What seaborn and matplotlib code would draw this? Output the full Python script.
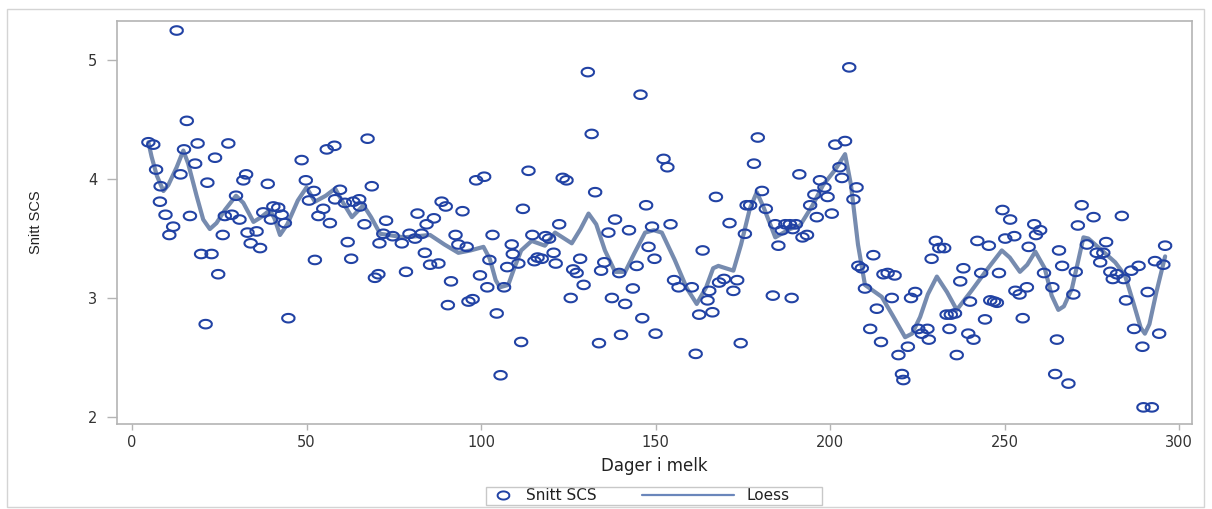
import numpy as np
import pandas as pd
import matplotlib
matplotlib.use("Agg")
import matplotlib.pyplot as plt
from matplotlib.lines import Line2D
from matplotlib.patches import Rectangle
import seaborn as sns

# ---------------- data ----------------
days = [4.7, 6.1, 6.9, 8.0, 8.2, 9.6, 10.7, 11.8, 12.8, 13.9, 14.9, 15.7, 16.6, 18.1, 18.8,
        19.8, 21.1, 21.6, 22.8, 23.8, 24.7, 26.0, 26.6, 27.6, 28.6, 29.8, 30.8, 31.9, 32.7,
        33.1, 34.0, 35.7, 36.7, 37.6, 38.9, 39.8, 40.5, 41.9, 42.9, 43.8, 44.8, 48.6, 49.8,
        50.7, 52.1, 52.4, 53.4, 54.8, 55.8, 56.7, 58.0, 58.2, 59.6, 61.0, 61.8, 62.8, 63.4,
        65.1, 65.3, 66.6, 67.5, 68.7, 69.6, 70.6, 70.9, 72.0, 72.8, 74.7, 77.3, 78.5, 79.5,
        81.1, 81.8, 83.0, 83.9, 84.4, 85.4, 86.5, 87.8, 88.7, 89.9, 90.5, 91.4, 92.7, 93.5,
        94.7, 95.9, 96.4, 97.6, 98.6, 99.7, 100.9, 101.8, 102.4, 103.3, 104.5, 105.6, 106.6,
        107.5, 108.8, 109.1, 110.7, 111.5, 112.0, 113.6, 114.7, 115.3, 116.2, 117.4, 118.5,
        119.5, 120.8, 121.4, 122.4, 123.4, 124.5, 125.7, 126.4, 127.4, 128.4, 129.4, 130.6,
        131.7, 132.7, 133.8, 134.4, 135.3, 136.5, 137.5, 138.4, 139.6, 140.1, 141.3, 142.4,
        143.5, 144.6, 145.7, 146.2, 147.3, 148.0, 149.0, 149.7, 150.0, 152.3, 153.4, 154.3,
        155.3, 156.6, 160.4, 161.5, 162.5, 163.5, 164.9, 165.4, 166.3, 167.3, 168.2, 169.6,
        171.2, 172.3, 173.4, 174.4, 175.6, 176.1, 177.1, 178.2, 179.3, 180.5, 181.6, 183.6,
        184.3, 185.2, 186.2, 187.2, 189.0, 188.5, 189.3, 190.2, 191.2, 192.1, 193.4, 194.3,
        195.5, 196.2, 197.1, 198.4, 199.3, 200.5, 201.5, 202.7, 203.4, 204.3, 205.5, 206.7,
        207.6, 208.1, 209.1, 210.0, 211.5, 212.4, 213.4, 214.6, 215.3, 216.5, 217.7, 218.5,
        219.6, 220.6, 221.0, 222.3, 223.2, 224.4, 225.3, 226.3, 227.9, 228.3, 229.1, 230.3,
        231.3, 232.7, 233.4, 234.2, 234.6, 235.8, 236.3, 237.3, 238.2, 239.6, 240.1, 241.1,
        242.2, 243.3, 244.4, 245.5, 245.9, 247.0, 247.8, 248.4, 249.4, 250.2, 251.6, 252.8,
        253.1, 254.3, 255.2, 256.4, 256.9, 258.5, 259.0, 260.2, 261.3, 263.7, 264.5, 265.0,
        265.6, 266.5, 268.3, 269.7, 270.4, 271.0, 272.1, 273.6, 275.5, 276.4, 277.4, 278.3,
        279.1, 280.3, 281.0, 282.2, 283.6, 284.1, 284.8, 286.3, 287.1, 288.4, 289.5, 289.8,
        291.0, 292.2, 293.1, 294.3, 295.5, 296.0]

snitt_scs = [4.31, 4.29, 4.08, 3.81, 3.94, 3.70, 3.53, 3.60, 5.25, 4.04, 4.25, 4.49, 3.69, 4.13, 4.30,
             3.37, 2.78, 3.97, 3.37, 4.18, 3.20, 3.53, 3.69, 4.30, 3.70, 3.86, 3.66, 3.99, 4.04,
             3.55, 3.46, 3.56, 3.42, 3.72, 3.96, 3.66, 3.77, 3.76, 3.70, 3.63, 2.83, 4.16, 3.99,
             3.82, 3.90, 3.32, 3.69, 3.75, 4.25, 3.63, 4.28, 3.83, 3.91, 3.80, 3.47, 3.33, 3.81,
             3.83, 3.77, 3.62, 4.34, 3.94, 3.17, 3.20, 3.46, 3.54, 3.65, 3.52, 3.46, 3.22, 3.54,
             3.50, 3.71, 3.54, 3.38, 3.62, 3.28, 3.67, 3.29, 3.81, 3.77, 2.94, 3.14, 3.53, 3.45,
             3.73, 3.43, 2.97, 2.99, 3.99, 3.19, 4.02, 3.09, 3.32, 3.53, 2.87, 2.35, 3.09,
             3.26, 3.45, 3.37, 3.29, 2.63, 3.75, 4.07, 3.53, 3.31, 3.34, 3.33, 3.52,
             3.50, 3.38, 3.29, 3.62, 4.01, 3.99, 3.00, 3.24, 3.21, 3.33, 3.11, 4.90,
             4.38, 3.89, 2.62, 3.23, 3.30, 3.55, 3.00, 3.66, 3.21, 2.69, 2.95, 3.57,
             3.08, 3.27, 4.71, 2.83, 3.78, 3.43, 3.60, 3.33, 2.70, 4.17, 4.10, 3.62,
             3.15, 3.09, 3.09, 2.53, 2.86, 3.40, 2.98, 3.06, 2.88, 3.85, 3.13, 3.16,
             3.63, 3.06, 3.15, 2.62, 3.54, 3.78, 3.78, 4.13, 4.35, 3.90, 3.75, 3.02,
             3.62, 3.44, 3.57, 3.62, 3.00, 3.62, 3.58, 3.62, 4.04, 3.51, 3.53, 3.78,
             3.87, 3.68, 3.99, 3.93, 3.85, 3.71, 4.29, 4.10, 4.01, 4.32, 4.94, 3.83,
             3.93, 3.27, 3.25, 3.08, 2.74, 3.36, 2.91, 2.63, 3.20, 3.21, 3.00, 3.19,
             2.52, 2.36, 2.31, 2.59, 3.00, 3.05, 2.74, 2.70, 2.74, 2.65, 3.33, 3.48,
             3.42, 3.42, 2.86, 2.74, 2.86, 2.87, 2.52, 3.14, 3.25, 2.70, 2.97, 2.65,
             3.48, 3.21, 2.82, 3.44, 2.98, 2.97, 2.96, 3.21, 3.74, 3.50, 3.66, 3.52,
             3.06, 3.03, 2.83, 3.09, 3.43, 3.62, 3.53, 3.57, 3.21, 3.09, 2.36, 2.65,
             3.40, 3.27, 2.28, 3.03, 3.22, 3.61, 3.78, 3.45, 3.68, 3.38, 3.30, 3.38,
             3.47, 3.22, 3.16, 3.20, 3.69, 3.16, 2.98, 3.23, 2.74, 3.27, 2.59, 2.08,
             3.05, 2.08, 3.31, 2.70, 3.28, 3.44]

loess_days = [4.7, 5.6, 7.1, 9.0, 10.4, 12.8, 14.7, 16.1, 18.5, 20.4, 22.3, 24.2, 26.6, 29.8,
              31.9, 34.8, 37.0, 39.5, 40.8, 42.4, 44.5, 47.5, 50.0, 52.4, 55.5, 58.2, 60.5,
              63.0, 66.3, 68.5, 71.1, 78.0, 85.4, 89.5, 93.5, 97.0, 100.7, 102.5, 104.2,
              105.4, 107.8, 109.5, 111.5, 114.5, 118.3, 121.2, 126.0, 128.5, 130.8, 133.0,
              135.5, 138.4, 141.3, 144.0, 147.0, 149.5, 151.8, 155.5, 159.0, 161.8, 164.5,
              166.5, 168.0, 172.3, 174.5, 177.0, 179.0, 181.0, 184.3, 188.5, 191.4, 195.0,
              198.0, 201.5, 204.3, 206.0, 208.0, 210.0, 214.8, 218.0, 221.5, 223.5, 225.8,
              228.0, 230.6, 233.5, 236.3, 240.5, 245.0, 249.2, 251.5, 254.4, 256.5, 258.8,
              261.5, 263.5, 265.4, 267.0, 269.3, 271.0, 272.6, 274.0, 277.5, 281.7, 284.5,
              287.0, 289.0, 290.2, 291.5, 293.5, 296.0]
loess_vals = [4.31, 4.19, 4.03, 3.90, 3.95, 4.10, 4.24, 4.13, 3.86, 3.66, 3.58, 3.63, 3.74, 3.86,
              3.80, 3.64, 3.68, 3.74, 3.67, 3.53, 3.62, 3.82, 3.93, 3.81, 3.86, 3.92, 3.80,
              3.68, 3.78, 3.68, 3.54, 3.51, 3.53, 3.45, 3.38, 3.40, 3.43, 3.33, 3.15,
              3.09, 3.11, 3.25, 3.40, 3.48, 3.44, 3.55, 3.46, 3.58, 3.71, 3.62,
              3.40, 3.22, 3.22, 3.38, 3.55, 3.57, 3.55, 3.32, 3.08, 2.95, 3.09,
              3.25, 3.27, 3.23, 3.45, 3.75, 3.89, 3.76, 3.51, 3.58, 3.61, 3.78,
              3.95, 4.08, 4.21, 3.95, 3.45, 3.11, 3.01, 2.85, 2.67, 2.70, 2.84,
              3.03, 3.18, 3.05, 2.90, 3.06, 3.24, 3.40, 3.34, 3.22, 3.28, 3.39,
              3.25, 3.02, 2.90, 2.93, 3.08, 3.30, 3.51, 3.50, 3.41, 3.30, 3.19,
              2.95, 2.75, 2.70, 2.78, 3.05, 3.35]

x_ticks = [0, 50, 100, 150, 200, 250, 300]
y_ticks = [2, 3, 4, 5]
x_label = "Dager i melk"
y_label = "Snitt SCS"
legend_labels = ["Snitt SCS", "Loess"]

n = min(len(days), len(snitt_scs))
pts = pd.DataFrame({"day": days[:n], "scs": snitt_scs[:n]})
m = min(len(loess_days), len(loess_vals))
lo = pd.DataFrame({"day": loess_days[:m], "val": loess_vals[:m]})

# ---------------- style ----------------
sns.set_style("white")
plt.rcParams["font.family"] = ["DejaVu Sans"]

MARK = "#2142a4"
LOESS = "#6f85ab"
GRID = "#b4b4b4"
TXT = "#333333"

W, H = 1212, 509
fig = plt.figure(figsize=(W / 100, H / 100), dpi=100)
ax = fig.add_axes([117 / W, 1 - 424 / H, (1192 - 117) / W, (424 - 21) / H])

# ellipse marker (chart is stretched horizontally)
t = np.linspace(0, 2 * np.pi, 41)
ell = list(zip(1.45 * np.cos(t), np.sin(t)))

sns.lineplot(data=lo, x="day", y="val", ax=ax, color=LOESS, linewidth=3.0,
             alpha=0.95, zorder=2, sort=False, solid_joinstyle="round",
             solid_capstyle="round")
sns.scatterplot(data=pts, x="day", y="scs", ax=ax, marker=ell, s=80,
                facecolor="none", edgecolor=MARK, linewidth=1.5, zorder=3)

ax.set_xlim(-4.3, 303.7)
ax.set_ylim(1.94, 5.33)
ax.set_xticks(x_ticks)
ax.set_yticks(y_ticks)
ax.set_xticklabels([str(v) for v in x_ticks], fontsize=10.5, color=TXT)
ax.set_yticklabels([str(v) for v in y_ticks], fontsize=10.5, color=TXT)
ax.tick_params(axis="x", direction="out", length=4, width=1, color=GRID, pad=4)
ax.tick_params(axis="y", direction="out", length=7, width=1, color=GRID, pad=7)
ax.xaxis.set_ticks_position("bottom")
ax.yaxis.set_ticks_position("left")
for s in ax.spines.values():
    s.set_color(GRID)
    s.set_linewidth(1.2)

ax.set_xlabel(x_label, fontsize=12, color="#222222", labelpad=5)
ax.set_ylabel("")
fig.text(36 / W, 1 - 222 / H, y_label, rotation=90, ha="center", va="center",
         fontsize=10.5, color="#222222", family=["Liberation Sans", "DejaVu Sans"])


class LongLineHandler:
    """Legend handler drawing a line that reaches further left than the handle box."""
    def __init__(self, extra):
        self.extra = extra

    def legend_artist(self, legend, orig_handle, fontsize, handlebox):
        x0, y0 = handlebox.xdescent, handlebox.ydescent
        w, h = handlebox.width, handlebox.height
        line = Line2D([-x0 - self.extra, -x0 + w], [-y0 + h / 2] * 2,
                      color=orig_handle.get_color(), linewidth=orig_handle.get_linewidth())
        handlebox.add_artist(line)
        return line


mark_handle = Line2D([], [], linestyle="none", marker=ell, markersize=8.5,
                     markerfacecolor="none", markeredgecolor=MARK, markeredgewidth=1.4)
line_handle = Line2D([], [], color="#6a86bb", linewidth=1.6)
# legend content centre (px) ~ 641, vertical centre ~ 496
leg = ax.legend([mark_handle, line_handle], legend_labels, loc="center",
                bbox_to_anchor=((641 - 117) / 1075, (424 - 496) / 403), ncol=2,
                frameon=False, fontsize=11, handlelength=1.4, columnspacing=7.6,
                handletextpad=0.8, borderpad=0.3,
                handler_map={line_handle: LongLineHandler(51)})
for txt in leg.get_texts():
    txt.set_color("#222222")

# legend frame
fig.patches.append(Rectangle((486 / W, 1 - 505 / H), (822 - 486) / W, (505 - 487) / H,
                             transform=fig.transFigure, fill=False,
                             edgecolor="#c8c8c8", linewidth=1.0))
# outer frame of the figure
fig.patches.append(Rectangle((7 / W, 1 - 507 / H), (1204 - 7) / W, (507 - 9) / H,
                             transform=fig.transFigure, fill=False,
                             edgecolor="#d4d4d4", linewidth=1.0))

fig.savefig("out.png", dpi=100, facecolor="white")
